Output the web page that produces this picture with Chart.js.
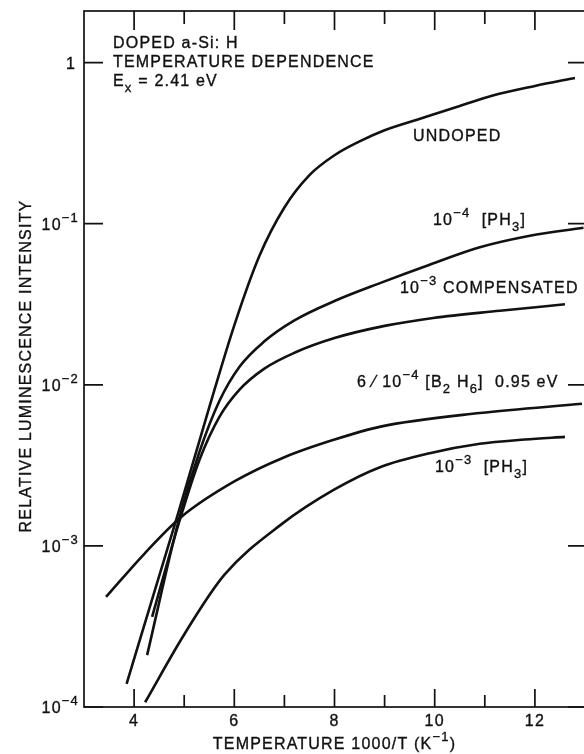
<!DOCTYPE html>
<html>
<head>
<meta charset="utf-8">
<script src="https://cdn.jsdelivr.net/npm/chart.js@4/dist/chart.umd.min.js"></script>
<style>
  html, body { margin: 0; padding: 0; background: #fff; overflow: hidden; }
  canvas { display: block; }
</style>
</head>
<body>
<canvas id="lumChart" width="600" height="754"></canvas>
<script>
// inverse temperature 1000/T (K^-1) and relative luminescence intensity per sample
const undopedX = [3.85, 4.4, 4.876, 5.5, 6.0, 6.5, 7.0, 7.5, 8.0, 8.5, 9.0, 9.77, 10.5, 11.16, 12.0, 12.8];
const undopedY = [1.39e-4, 5.13e-4, 1.58e-3, 7.24e-3, 0.0234, 0.063, 0.126, 0.200, 0.266, 0.324, 0.380, 0.454, 0.537, 0.624, 0.716, 0.803];

const ph3LowX = [4.26, 4.9, 5.3, 5.7, 6.1, 6.6, 7.2, 8.0, 8.92, 9.9, 10.9, 11.9, 12.97];
const ph3LowY = [2.1e-4, 1.48e-3, 3.8e-3, 7.9e-3, 0.0129, 0.0186, 0.0251, 0.0331, 0.0429, 0.0556, 0.0713, 0.0841, 0.0944];

const compX = [4.36, 4.9, 5.3, 5.7, 6.1, 6.6, 7.2, 8.0, 9.0, 9.97, 11.3, 12.6];
const compY = [3.63e-4, 1.41e-3, 3.39e-3, 6.3e-3, 9.3e-3, 0.0126, 0.0158, 0.0195, 0.0232, 0.0260, 0.0288, 0.0316];

const b2h6X = [3.44, 4.2, 4.94, 6.0, 7.0, 8.0, 8.92, 10.9, 12.94];
const b2h6Y = [4.82e-4, 8.9e-4, 1.51e-3, 2.51e-3, 3.55e-3, 4.57e-3, 5.5e-3, 6.68e-3, 7.62e-3];

const ph3HighX = [4.22, 5.0, 5.8, 6.925, 8.0, 8.92, 9.9, 10.9, 11.8, 12.6];
const ph3HighY = [1.07e-4, 2.82e-4, 6.6e-4, 1.35e-3, 2.24e-3, 3.09e-3, 3.76e-3, 4.3e-3, 4.57e-3, 4.75e-3];

const xTickLabels = [4, 6, 8, 10, 12];
const xTickAll = [4, 5, 6, 7, 8, 9, 10, 11, 12];
const yTickExps = [0, -1, -2, -3, -4];

const FONT = '"Liberation Sans", Arial, sans-serif';

function pts(xs, ys) { return xs.map((x, i) => ({ x, y: ys[i] })); }

// draw a run of text pieces, some raised (sup) or lowered (sub)
function rich(ctx, parts, x, y, align, size) {
  size = size || 16;
  ctx.letterSpacing = '1.2px';
  const fnt = p => (p.s ? Math.round(size * 0.8) : size) + 'px ' + FONT;
  const w = parts.map(p => { ctx.font = fnt(p); return ctx.measureText(p.t).width; });
  const total = w.reduce((a, b) => a + b, 0);
  let cx = align === 'right' ? x - total : align === 'center' ? x - total / 2 : x;
  ctx.textAlign = 'left';
  ctx.textBaseline = 'middle';
  ctx.lineWidth = 0.35;
  parts.forEach((p, i) => {
    ctx.font = fnt(p);
    const dy = p.s === 1 ? -size * 0.45 : p.s === -1 ? size * 0.4 : 0;
    ctx.fillText(p.t, cx, y + dy);
    ctx.strokeText(p.t, cx, y + dy);
    cx += w[i];
  });
}

const framePlugin = {
  id: 'frame',
  afterDraw(chart) {
    const { ctx, chartArea: a, scales: { x, y } } = chart;
    ctx.save();
    ctx.strokeStyle = '#111';
    ctx.fillStyle = '#111';
    ctx.lineWidth = 1.7;
    ctx.strokeRect(a.left, a.top, a.right - a.left, a.bottom - a.top);

    // inward ticks, long on even values
    ctx.beginPath();
    xTickAll.forEach(v => {
      const px = x.getPixelForValue(v);
      const len = v % 2 === 0 ? 18 : 12;
      ctx.moveTo(px, a.bottom); ctx.lineTo(px, a.bottom - len);
      ctx.moveTo(px, a.top); ctx.lineTo(px, a.top + len + 1);
    });
    yTickExps.forEach(e => {
      const py = y.getPixelForValue(Math.pow(10, e));
      ctx.moveTo(a.left, py); ctx.lineTo(a.left + 19, py);
      ctx.moveTo(a.right, py); ctx.lineTo(a.right - 17, py);
    });
    ctx.stroke();

    // tick labels
    xTickLabels.forEach(v => {
      rich(ctx, [{ t: String(v) }], x.getPixelForValue(v), a.bottom + 15, 'center');
    });
    yTickExps.forEach(e => {
      const py = y.getPixelForValue(Math.pow(10, e)) + 2;
      if (e === 0) rich(ctx, [{ t: '1' }], 76, py, 'right');
      else rich(ctx, [{ t: '10' }, { t: '\u2212' + (-e), s: 1 }], 79, py, 'right');
    });

    // axis titles
    rich(ctx, [{ t: 'TEMPERATURE 1000/T (K' }, { t: '\u22121', s: 1 }, { t: ')' }], (a.left + a.right) / 2, 745, 'center');
    ctx.save();
    ctx.translate(27, 366);
    ctx.rotate(-Math.PI / 2);
    rich(ctx, [{ t: 'RELATIVE LUMINESCENCE INTENSITY' }], 0, 0, 'center');
    ctx.restore();

    // header block
    rich(ctx, [{ t: 'DOPED a-Si: H' }], 113, 44, 'left');
    rich(ctx, [{ t: 'TEMPERATURE DEPENDENCE' }], 113, 63, 'left');
    rich(ctx, [{ t: 'E' }, { t: 'x', s: -1 }, { t: ' = 2.41 eV' }], 113, 82, 'left');

    // curve labels
    rich(ctx, [{ t: 'UNDOPED' }], 413, 137, 'left');
    rich(ctx, [{ t: '10' }, { t: '\u22124', s: 1 }, { t: '  [PH' }, { t: '3', s: -1 }, { t: ']' }], 433, 221, 'left');
    rich(ctx, [{ t: '10' }, { t: '\u22123', s: 1 }, { t: ' COMPENSATED' }], 400, 289, 'left');
    rich(ctx, [{ t: '6 \u2044 10' }, { t: '\u22124', s: 1 }, { t: ' [B' }, { t: '2', s: -1 }, { t: ' H' }, { t: '6', s: -1 }, { t: ']  0.95 eV' }], 357, 383, 'left');
    rich(ctx, [{ t: '10' }, { t: '\u22123', s: 1 }, { t: '  [PH' }, { t: '3', s: -1 }, { t: ']' }], 435, 468, 'left');
    ctx.restore();
  }
};

const line = (xs, ys) => ({
  data: pts(xs, ys),
  borderColor: '#111',
  borderWidth: 2.6,
  pointRadius: 0,
  fill: false,
  cubicInterpolationMode: 'monotone'
});

new Chart(document.getElementById('lumChart'), {
  type: 'line',
  data: {
    datasets: [
      line(undopedX, undopedY),
      line(ph3LowX, ph3LowY),
      line(compX, compY),
      line(b2h6X, b2h6Y),
      line(ph3HighX, ph3HighY)
    ]
  },
  options: {
    responsive: false,
    devicePixelRatio: 1,
    animation: false,
    layout: { padding: { left: 84, top: 11, right: 15, bottom: 47 } },
    plugins: { legend: { display: false }, tooltip: { enabled: false } },
    scales: {
      x: { type: 'linear', min: 3, max: 13, display: false },
      y: { type: 'logarithmic', min: 1e-4, max: Math.pow(10, 0.32), display: false }
    }
  },
  plugins: [framePlugin]
});
</script>
</body>
</html>
